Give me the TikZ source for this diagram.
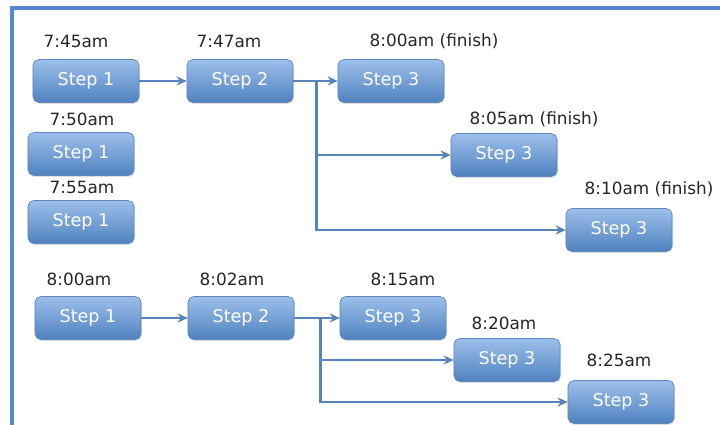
\documentclass[tikz,border=0pt]{standalone}
\usepackage{fontspec}
\setmainfont{DejaVu Sans}
\usetikzlibrary{arrows.meta,calc,shadows}
\definecolor{StepTop}{RGB}{156,191,234}
\definecolor{StepBottom}{RGB}{80,130,192}
\definecolor{StepEdge}{RGB}{95,135,185}
\definecolor{FlowBlue}{RGB}{88,130,186}
\definecolor{FrameBlue}{RGB}{84,138,206}

\begin{document}
\begin{tikzpicture}[x=0.025cm,y=-0.025cm,
        stepbox/.style={draw=StepEdge,line width=0.5pt,top color=StepTop,
          bottom color=StepBottom,rounded corners=4pt,minimum width=2.65cm,
          minimum height=1.07cm,text=white,font=\fontsize{12.5}{14}\selectfont,
          drop shadow={opacity=0.25,shadow xshift=0.6pt,shadow yshift=-1pt}},
        stamp/.style={font=\fontsize{12}{14}\selectfont,text=black!85},
        flow/.style={-{Stealth[length=2.5mm,width=2.3mm]},line width=1.9pt,draw=FlowBlue},
        link/.style={line width=1.9pt,draw=FlowBlue}
      ]
        \useasboundingbox (0,0) rectangle (720,425);
        \draw[FrameBlue,line width=2.2pt] (12,425) -- (12,8) -- (720,8);

        % first run
        \node[stepbox] (oneA) at (86,81) {Step 1};
        \node[stepbox] (twoA) at (240,81) {Step 2};
        \node[stepbox] (threeA) at (391,81) {Step 3};
        \node[stepbox] (threeB) at (504,155) {Step 3};
        \node[stepbox] (threeC) at (619,230) {Step 3};
        \node[stepbox] (oneB) at (81,154) {Step 1};
        \node[stepbox] (oneC) at (81,222) {Step 1};

        \node[stamp] (tOneA) at (76,41) {7:45am};
        \node[stamp] (tTwoA) at (229,41) {7:47am};
        \node[stamp] (tThreeA) at (434,41) {8:00am (finish)};
        \node[stamp] (tOneB) at (82,119) {7:50am};
        \node[stamp] (tOneC) at (82,187) {7:55am};
        \node[stamp] (tThreeB) at (534,119) {8:05am (finish)};
        \node[stamp] (tThreeC) at (649,189) {8:10am (finish)};

        \coordinate (forkA) at ($(twoA.east)+(23,0)$);
        \draw[flow] (oneA) -- (twoA);
        \draw[flow] (twoA) -- (threeA);
        \draw[link] (forkA) -- (forkA |- threeC);
        \draw[flow] (forkA) |- (threeB);
        \draw[flow] (forkA) |- (threeC);

        % second run
        \node[stepbox] (oneD) at (88,318) {Step 1};
        \node[stepbox] (twoD) at (241,318) {Step 2};
        \node[stepbox] (threeD) at (393,318) {Step 3};
        \node[stepbox] (threeE) at (507,360) {Step 3};
        \node[stepbox] (threeF) at (621,402) {Step 3};

        \node[stamp] (tOneD) at (79,279) {8:00am};
        \node[stamp] (tTwoD) at (232,279) {8:02am};
        \node[stamp] (tThreeD) at (403,279) {8:15am};
        \node[stamp] (tThreeE) at (504,323) {8:20am};
        \node[stamp] (tThreeF) at (619,360) {8:25am};

        \coordinate (forkD) at ($(twoD.east)+(26,0)$);
        \draw[flow] (oneD) -- (twoD);
        \draw[flow] (twoD) -- (threeD);
        \draw[link] (forkD) -- (forkD |- threeF);
        \draw[flow] (forkD) |- (threeE);
        \draw[flow] (forkD) |- (threeF);
      \end{tikzpicture}
\end{document}
